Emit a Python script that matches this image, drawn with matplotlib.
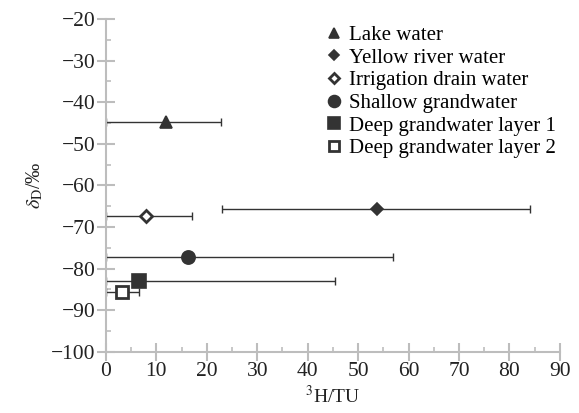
import matplotlib.pyplot as plt
from matplotlib.ticker import MultipleLocator

plt.rcParams['font.family'] = ['Liberation Serif', 'DejaVu Serif']
plt.rcParams['mathtext.fontset'] = 'stix'

# tritium (TU) and deuterium (permil) by water type; xerr gives the TU range
labels = ["Lake water", "Yellow river water", "Irrigation drain water",
          "Shallow grandwater", "Deep grandwater layer 1",
          "Deep grandwater layer 2"]
tritium = [12.0, 53.7, 7.9, 16.2, 6.5, 3.2]
delta_d = [-44.7, -65.7, -67.4, -77.3, -83.0, -85.7]
t_min = [0.0, 23.0, 0.0, 0.0, 0.0, 0.0]
t_max = [22.8, 84.0, 17.0, 57.0, 45.5, 6.6]

markers = ['^', 'D', 'D', 'o', 's', 's']
sizes = [8, 6, 6, 9.5, 9.5, 8]
filled = [True, True, False, True, True, False]

DARK = '#333333'
GRAY = '#bdbdbd'

fig = plt.figure(figsize=(5.79, 4.13), dpi=100)
ax = fig.add_axes([0.183, 0.148, 0.784, 0.806])

for i in range(len(labels)):
    err = [[tritium[i] - t_min[i]], [t_max[i] - tritium[i]]]
    ax.errorbar([tritium[i]], [delta_d[i]], xerr=err, fmt='none',
                ecolor=DARK, elinewidth=1.0, capsize=3, capthick=1.0)
    face = DARK if filled[i] else 'white'
    ax.plot([tritium[i]], [delta_d[i]], linestyle='none', marker=markers[i],
            markersize=sizes[i], markerfacecolor=face, markeredgecolor=DARK,
            markeredgewidth=1.2 if filled[i] else 2.0, label=labels[i],
            zorder=3)

ax.set_xlim(0, 90)
ax.set_ylim(-100, -20)
ax.xaxis.set_major_locator(MultipleLocator(10))
ax.xaxis.set_minor_locator(MultipleLocator(5))
ax.yaxis.set_major_locator(MultipleLocator(10))
ax.yaxis.set_minor_locator(MultipleLocator(5))

for side in ['top', 'right']:
    ax.spines[side].set_visible(False)
for side in ['left', 'bottom']:
    ax.spines[side].set_color(GRAY)
    ax.spines[side].set_linewidth(1.5)

ax.tick_params(which='major', direction='inout', length=13, width=1.5,
               color=GRAY, labelsize=15.5, labelcolor='#222222', pad=1)
ax.tick_params(which='minor', direction='in', length=3.5, width=1.2,
               color=GRAY)

ax.set_xlabel("$^{3}$H/TU", fontsize=14, color='#222222', labelpad=3)
ax.set_ylabel(r"$\delta_{\mathrm{D}}$/‰", fontsize=14.5, color='#222222',
              labelpad=4)

ax.legend(loc='upper right', bbox_to_anchor=(1.023, 1.025), frameon=False,
          fontsize=15, handlelength=0.6, handletextpad=0.4,
          labelspacing=0.15, borderaxespad=0.3, markerscale=0.9)

fig.savefig("out.png", dpi=100)
